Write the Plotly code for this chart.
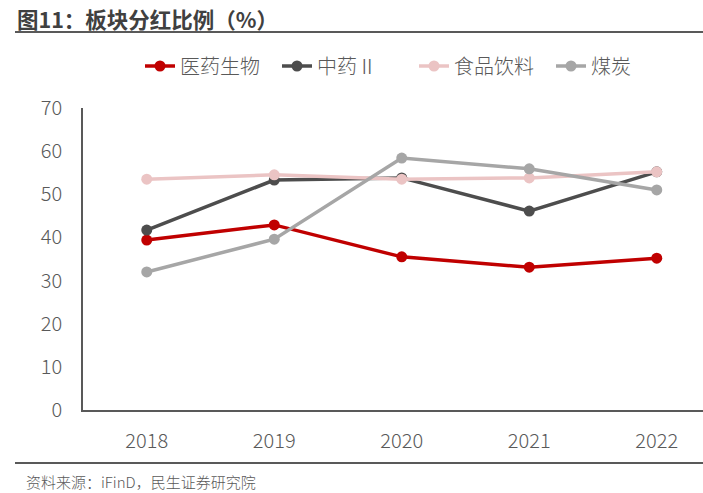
import plotly.graph_objects as go

years = ["2018", "2019", "2020", "2021", "2022"]
yiyao = [39.4, 42.9, 35.5, 33.1, 35.2]
zhongyao = [41.7, 53.3, 53.8, 46.1, 55.2]
shipin = [53.5, 54.5, 53.5, 53.8, 55.2]
meitan = [32.0, 39.6, 58.4, 55.9, 51.0]
y_ticks = [0, 10, 20, 30, 40, 50, 60, 70]

series = [
    ("医药生物", yiyao, "#C00000"),
    ("中药Ⅱ", zhongyao, "#4D4D4D"),
    ("食品饮料", shipin, "#EBC4C4"),
    ("煤炭", meitan, "#A6A6A6"),
]

FONT = "Noto Sans CJK SC"
fig = go.Figure()
xs = list(range(len(years)))
for name, vals, col in series:
    fig.add_trace(go.Scatter(
        x=xs, y=vals, name=name, mode="lines+markers",
        line=dict(color=col, width=3.5),
        marker=dict(color=col, size=11),
    ))

W, H = 703, 493
L, R, T, B = 83, 0, 108, 83
pw, ph = W - L - R, H - T - B

fig.update_layout(
    width=W, height=H,
    margin=dict(l=L, r=R, t=T, b=B),
    paper_bgcolor="white", plot_bgcolor="white",
    font=dict(family=FONT, size=20, color="#595959", weight=300),
    showlegend=True,
    legend=dict(orientation="h", x=(140 - L) / pw, xanchor="left",
                y=1 + (T - 66) / ph, yanchor="middle",
                font=dict(size=20, color="#595959", weight=300),
                entrywidth=92, entrywidthmode="pixels", tracegroupgap=0),
    xaxis=dict(
        range=[-0.5, -0.5 + pw / 127.5],
        tickmode="array", tickvals=xs, ticktext=years,
        showline=True, linecolor="#595959", linewidth=1.5,
        showgrid=False, zeroline=False, ticks="", ticklabelstandoff=12,
    ),
    yaxis=dict(
        range=[0, 70], tickvals=y_ticks,
        showline=True, linecolor="#595959", linewidth=1.5,
        showgrid=False, zeroline=False, ticks="", ticklabelstandoff=15,
    ),
    annotations=[
        dict(text="<b>图11：板块分红比例（%）</b>", xref="paper", yref="paper",
             x=(15 - L) / pw, y=(H - B - 18) / ph, xanchor="left", yanchor="middle",
             showarrow=False, font=dict(size=21.5, color="#404040", family=FONT)),
        dict(text="资料来源：iFinD，民生证券研究院", xref="paper", yref="paper",
             x=(24 - L) / pw, y=(H - B - 482) / ph, xanchor="left", yanchor="middle",
             showarrow=False, font=dict(size=15, color="#595959", family=FONT, weight=300)),
    ],
    shapes=[
        dict(type="line", xref="paper", yref="paper",
             x0=(15 - L) / pw, x1=1, y0=(H - B - 32) / ph, y1=(H - B - 32) / ph,
             line=dict(color="#595959", width=2)),
        dict(type="line", xref="paper", yref="paper",
             x0=(15 - L) / pw, x1=1, y0=(H - B - 463) / ph, y1=(H - B - 463) / ph,
             line=dict(color="#595959", width=2)),
    ],
)

fig.write_html("out.html", config={"displayModeBar": False},
               post_script="document.body.style.margin='0px';")
